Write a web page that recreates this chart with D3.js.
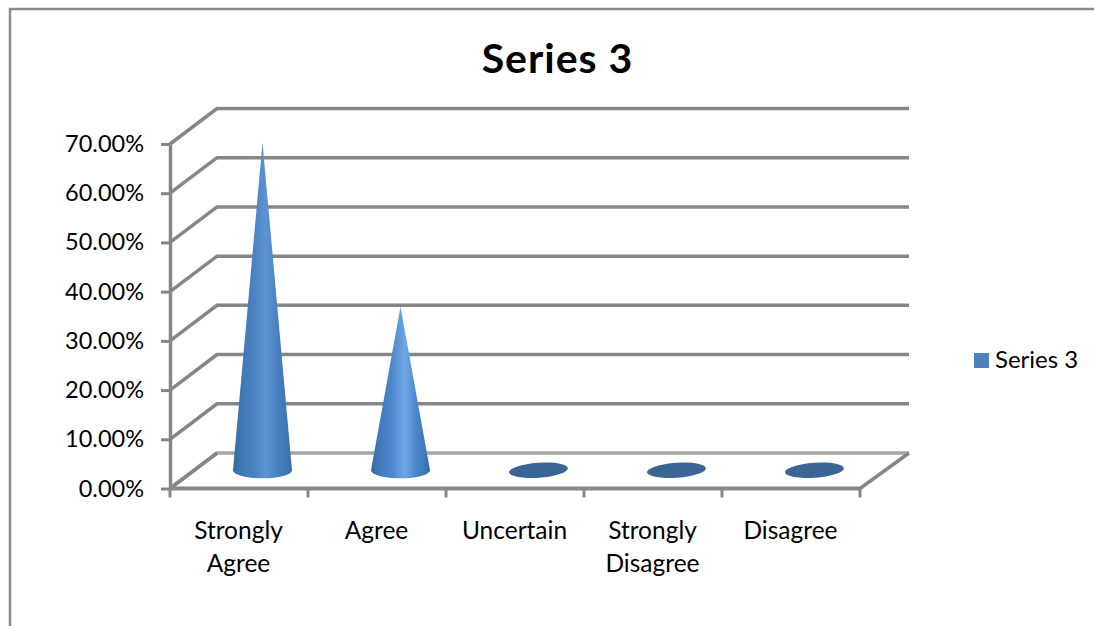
<!DOCTYPE html>
<html>
<head>
<meta charset="utf-8">
<script src="https://cdn.jsdelivr.net/npm/d3@7"></script>
<style>
  html, body { margin: 0; padding: 0; background: #fff; }
  svg { display: block; }
  text { font-family: Lato, "Open Sans", sans-serif; fill: #000; }
</style>
</head>
<body>
<div id="chart"></div>
<script>
const categories = [["Strongly", "Agree"], ["Agree"], ["Uncertain"], ["Strongly", "Disagree"], ["Disagree"]]
const values = [0.6667, 0.3333, 0, 0, 0]
const yTicks = [0, 0.1, 0.2, 0.3, 0.4, 0.5, 0.6, 0.7]
const seriesName = "Series 3"

const width = 1094, height = 626
const gray = "#868686"
// offset of the back wall from the front plane
const depth = { x: 47, y: -35.5 }

const svg = d3.select("#chart").append("svg")
    .attr("width", width)
    .attr("height", height)

const x = d3.scaleBand().domain(d3.range(categories.length)).range([170, 860])
const y = d3.scaleLinear().domain([0, 0.7]).range([488.5, 144])

// outer frame, only top and left show in the picture
svg.append("path")
    .attr("d", `M10,${height} V9 H${width}`)
    .attr("fill", "none")
    .attr("stroke", "#8c8c8c")
    .attr("stroke-width", 2.5)

svg.append("text")
    .text(seriesName)
    .attr("x", 557.5)
    .attr("y", 73)
    .attr("text-anchor", "middle")
    .style("font-size", "41px")
    .style("font-weight", "bold")
    .style("letter-spacing", "1px")

// gradients for the cones
const defs = svg.append("defs")
const stops = [
    [["0%", "#34699f"], ["12%", "#3f76b4"], ["35%", "#4a82c3"], ["55%", "#5c93d3"], ["78%", "#467ebf"], ["92%", "#3f76b4"], ["100%", "#34699f"]],
    [["0%", "#34699f"], ["12%", "#3f78b8"], ["35%", "#4d87cb"], ["58%", "#6ea6e8"], ["78%", "#4a84c8"], ["92%", "#3f78b8"], ["100%", "#34699f"]]
]
stops.forEach(function (s, i) {
    defs.append("linearGradient")
        .attr("id", "cone" + i)
        .selectAll("stop")
        .data(s)
        .join("stop")
        .attr("offset", d => d[0])
        .attr("stop-color", d => d[1])
})

// back wall and side wall lines
const grid = svg.append("g")
    .attr("fill", "none")
    .attr("stroke", gray)
    .attr("stroke-width", 3.5)

grid.selectAll("path")
    .data(yTicks)
    .join("path")
    .attr("d", d => `M170,${y(d)} L${170 + depth.x},${y(d) + depth.y} H909`)
    .attr("stroke", d => d === 0 ? "#a6a6a6" : gray)

grid.append("path")
    .attr("d", `M170,${y(0)} L${170 + depth.x},${y(0) + depth.y}`)
grid.append("path")
    .attr("d", `M860,${y(0)} L909,${y(0) + depth.y}`)

// y axis
const yAxis = svg.append("g")
    .attr("transform", "translate(170, 0)")
    .call(d3.axisLeft(y).tickValues(yTicks).tickFormat(d3.format(".2%")).tickSize(9).tickPadding(17).tickSizeOuter(0))
yAxis.selectAll("line").attr("stroke", gray).attr("stroke-width", 3)
yAxis.select(".domain").attr("stroke", gray).attr("stroke-width", 3.5)
yAxis.selectAll("text")
    .style("font-family", "Lato, sans-serif")
    .style("font-size", "23.5px")
    .attr("fill", "#000")

// x axis line, ticks sit between the categories
const xAxis = svg.append("g")
xAxis.append("line")
    .attr("x1", x.range()[0])
    .attr("x2", x.range()[1])
    .attr("y1", y(0))
    .attr("y2", y(0))
    .attr("stroke", gray)
    .attr("stroke-width", 4)
xAxis.selectAll(".tick")
    .data(d3.range(categories.length + 1))
    .join("line")
    .attr("class", "tick")
    .attr("x1", d => x.range()[0] + d * x.step())
    .attr("x2", d => x.range()[0] + d * x.step())
    .attr("y1", y(0))
    .attr("y2", y(0) + 9)
    .attr("stroke", gray)
    .attr("stroke-width", 3)

const labels = svg.append("g").attr("text-anchor", "middle").style("font-size", "24.5px")
categories.forEach(function (lines, i) {
    const t = labels.append("text")
        .attr("x", x(i) + x.bandwidth() / 2 - 0.5)
        .attr("y", 539)
    lines.forEach(function (line, j) {
        t.append("tspan")
            .attr("x", x(i) + x.bandwidth() / 2 - 0.5)
            .attr("dy", j ? 33 : 0)
            .text(line)
    })
})

// cones stand halfway into the depth of the floor
const rx = 29.5, ry = 8
const coneX = i => x(i) + x.bandwidth() / 2 + depth.x / 2
const coneY = v => y(v) + depth.y / 2

svg.append("g").selectAll("path")
    .data(values)
    .join("path")
    .attr("d", function (d, i) {
        const cx = coneX(i), base = coneY(0) - 0.5
        if (d === 0) return `M${cx - rx},${base} A${rx},${ry - 0.5} 0 1 0 ${cx + rx},${base} A${rx},${ry - 0.5} 0 1 0 ${cx - rx},${base} Z`
        return `M${cx},${coneY(d)} L${cx + rx},${base} A${rx},${ry} 0 0 1 ${cx - rx},${base} Z`
    })
    .attr("transform", (d, i) => d === 0 ? `rotate(-4 ${coneX(i)} ${coneY(0)})` : null)
    .attr("fill", (d, i) => d === 0 ? "#3b6594" : `url(#cone${i})`)

// legend
svg.append("rect")
    .attr("x", 974)
    .attr("y", 353)
    .attr("width", 15)
    .attr("height", 15)
    .attr("fill", "#4f81bd")
svg.append("text")
    .text(seriesName)
    .attr("x", 995)
    .attr("y", 368)
    .style("font-size", "24px")
</script>
</body>
</html>
